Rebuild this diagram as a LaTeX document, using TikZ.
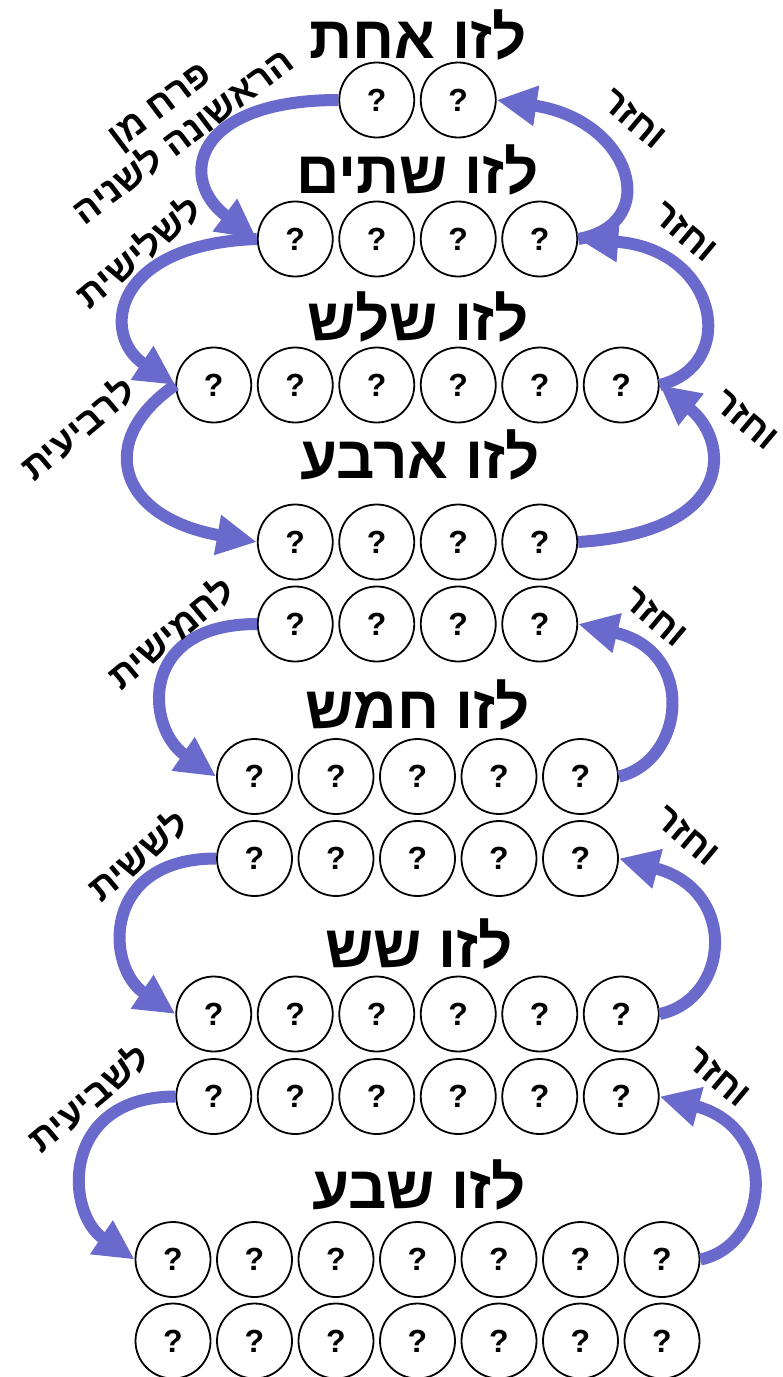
\documentclass[tikz,border=0pt]{standalone}
\usepackage{fontspec}
\usetikzlibrary{arrows.meta}
\TeXXeTstate=1
\newfontfamily\heb[Script=Hebrew]{Liberation Sans}
\definecolor{arrowblue}{RGB}{106,106,204}
\begin{document}
\begin{tikzpicture}[x=1pt,y=-1pt,
  qc/.style={circle,draw=black,line width=1.8pt,minimum size=75pt,inner sep=0pt,
    font=\heb\bfseries\fontsize{32}{36}\selectfont},
  ttl/.style={anchor=base,inner sep=0pt,font=\heb\bfseries\fontsize{60}{70}\selectfont},
  lbl/.style={inner sep=0pt,font=\heb\bfseries\fontsize{37}{40}\selectfont,align=center},
  arr/.style={draw=arrowblue,line width=12pt,-{Triangle[length=40pt,width=38pt]}}]
\useasboundingbox (0,0) rectangle (783,1377);
% circles
\foreach \r/\n/\y in {1/2/100,2/4/239,3/6/385,4/4/542,5/4/624,6/5/776.5,7/5/858.5,8/6/1014,9/6/1096.5,10/7/1259.5,11/7/1341}{
  \foreach \i in {1,...,\n}{
    \node[qc] (r\r-\i) at ({417.5+(\i-(\n+1)/2)*81.5},\y) {?};
  }
}
% titles
\node[ttl] (t1) at (418,58) {\beginR לזו אחת\endR};
\node[ttl] (t2) at (418,193) {\beginR לזו שתים\endR};
\node[ttl] (t3) at (418,340) {\beginR לזו שלש\endR};
\node[ttl] (t4) at (420,478) {\beginR לזו ארבע\endR};
\node[ttl] (t5) at (418,728) {\beginR לזו חמש\endR};
\node[ttl] (t6) at (419,967) {\beginR לזו שש\endR};
\node[ttl] (t7) at (419,1208) {\beginR לזו שבע\endR};
% left arrows
\draw[arr] (r1-1.west) .. controls +(-145,0) and +(-80,-60) .. (r2-1.west);
\draw[arr] (r2-1.west) .. controls +(-145,5) and +(-75,-50) .. (r3-1.west);
\draw[arr] (r3-1.west) .. controls +(-80,55) and +(-140,-25) .. (r4-1.west);
\draw[arr] (r5-1.west) .. controls +(-120,0) and +(-70,-48) .. (r6-1.west);
\draw[arr] (r7-1.west) .. controls +(-115,0) and +(-70,-47) .. (r8-1.west);
\draw[arr] (r9-1.west) .. controls +(-115,0) and +(-70,-47) .. (r10-1.west);
% right arrows
\draw[arr] (r2-4.east) .. controls +(85,-15) and +(135,20) .. (r1-2.east);
\draw[arr] (r3-6.east) .. controls +(80,-20) and +(140,10) .. (r2-4.east);
\draw[arr] (r4-4.east) .. controls +(160,-10) and +(70,55) .. (r3-6.east);
\draw[arr] (r6-5.east) .. controls +(65,-15) and +(120,28) .. (r5-4.east);
\draw[arr] (r8-6.east) .. controls +(70,-15) and +(120,32) .. (r7-5.east);
\draw[arr] (r10-7.east) .. controls +(70,-15) and +(120,32) .. (r9-6.east);
% labels
\node[lbl,rotate=37] (l1) at (172,122) {\beginR פרח מן\endR\\\beginR הראשונה לשניה\endR};
\node[lbl,rotate=40] (l2) at (138,251) {\beginR לשלישית\endR};
\node[lbl,rotate=40] (l3) at (77,428) {\beginR לרביעית\endR};
\node[lbl,rotate=40] (l4) at (170,632) {\beginR לחמישית\endR};
\node[lbl,rotate=40] (l5) at (137,855) {\beginR לששית\endR};
\node[lbl,rotate=40] (l6) at (88,1097) {\beginR לשביעית\endR};
\node[lbl,rotate=-40] (k1) at (634,119) {\beginR וחזר\endR};
\node[lbl,rotate=-40] (k2) at (685,232) {\beginR וחזר\endR};
\node[lbl,rotate=-40] (k3) at (746,420) {\beginR וחזר\endR};
\node[lbl,rotate=-40] (k4) at (655,617) {\beginR וחזר\endR};
\node[lbl,rotate=-40] (k5) at (687,836) {\beginR וחזר\endR};
\node[lbl,rotate=-40] (k6) at (718,1077) {\beginR וחזר\endR};
\end{tikzpicture}
\end{document}
